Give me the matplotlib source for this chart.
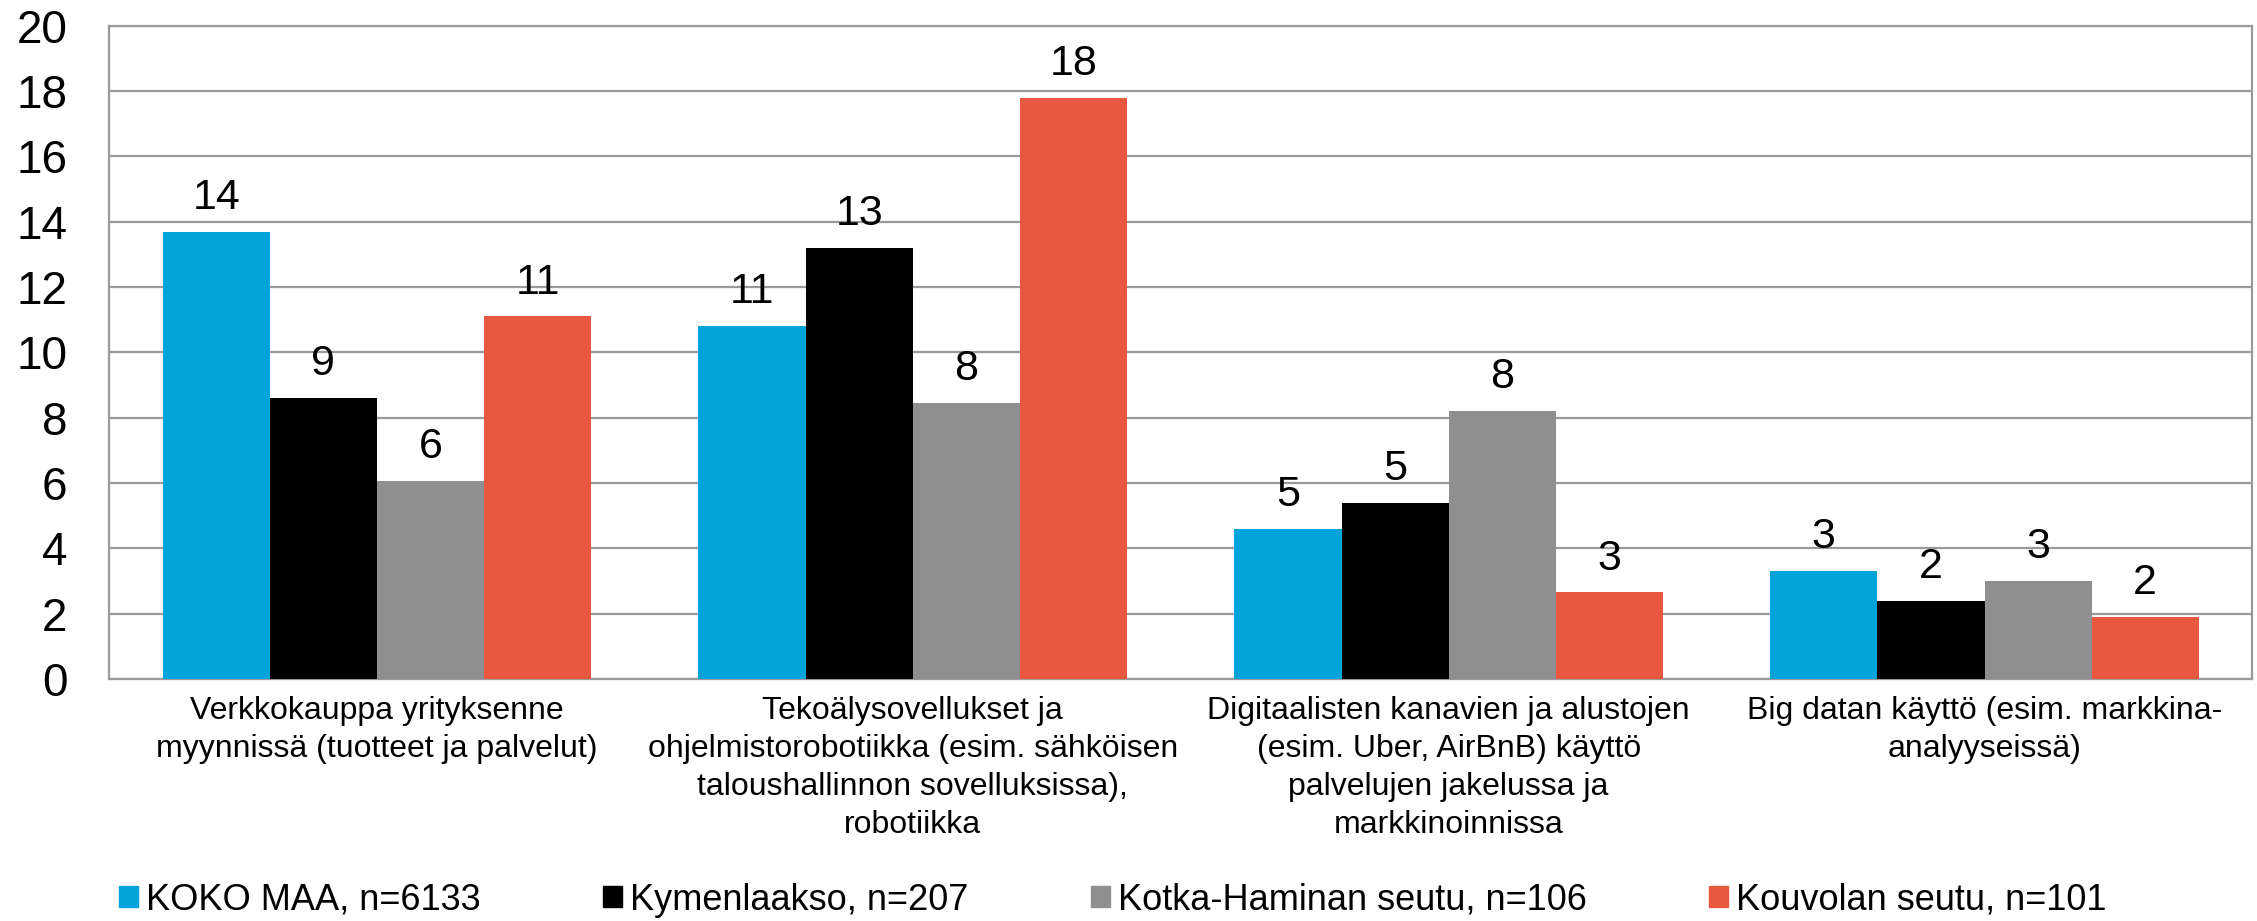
import numpy as np
import matplotlib.pyplot as plt
from matplotlib.patches import Patch

plt.rcParams['font.family'] = ['Liberation Sans', 'DejaVu Sans']

# Data
categories = [
    'Verkkokauppa yrityksenne\nmyynnissä (tuotteet ja palvelut)',
    'Tekoälysovellukset ja\nohjelmistorobotiikka (esim. sähköisen\ntaloushallinnon sovelluksissa),\nrobotiikka',
    'Digitaalisten kanavien ja alustojen\n(esim. Uber, AirBnB) käyttö\npalvelujen jakelussa ja\nmarkkinoinnissa',
    'Big datan käyttö (esim. markkina-\nanalyyseissä)',
]
series_names = ['KOKO MAA, n=6133', 'Kymenlaakso, n=207',
                'Kotka-Haminan seutu, n=106', 'Kouvolan seutu, n=101']
koko_maa = [13.7, 10.8, 4.6, 3.3]
kymenlaakso = [8.6, 13.2, 5.4, 2.4]
kotka_hamina = [6.05, 8.45, 8.2, 3.0]
kouvola = [11.1, 17.8, 2.65, 1.9]
colors = ['#00A3DA', '#000000', '#8F8F8F', '#E8573F']

series = [koko_maa, kymenlaakso, kotka_hamina, kouvola]

fig = plt.figure(figsize=(22.57, 9.21), dpi=100)
ax = fig.add_axes([0.0483, 0.2628, 0.9497, 0.7092])

x = np.arange(len(categories))
width = 0.2
for i, (vals, col) in enumerate(zip(series, colors)):
    pos = x + (i - 1.5) * width
    bars = ax.bar(pos, vals, width, color=col, zorder=3)
    for b, v in zip(bars, vals):
        ax.annotate(f'{v:.0f}', (b.get_x() + b.get_width() / 2, v),
                    xytext=(0, 10), textcoords='offset points',
                    ha='center', va='bottom', fontsize=31)

ax.set_xlim(-0.5, len(categories) - 0.5)
ax.set_ylim(0, 20)
ax.set_yticks(np.arange(0, 21, 2))
ax.yaxis.grid(True, color='#9A9A9A', linewidth=1.6, zorder=0)
ax.set_axisbelow(True)
for s in ax.spines.values():
    s.set_color('#9A9A9A')
    s.set_linewidth(1.6)
ax.set_xticks(x)
ax.set_xticklabels(categories, fontsize=23, linespacing=1.36, va='top')
ax.tick_params(axis='y', length=0, pad=30, labelsize=33)
ax.tick_params(axis='x', length=0, pad=12)

handles = [Patch(color=c) for c in colors]
fig.legend(handles, series_names, loc='center left', bbox_to_anchor=(0.0527, 0.0228),
           ncol=4, frameon=False, fontsize=26, handlelength=0.52, handleheight=0.52,
           handletextpad=0.22, columnspacing=3.4, borderpad=0, borderaxespad=0)

fig.savefig('out.png', dpi=100)
